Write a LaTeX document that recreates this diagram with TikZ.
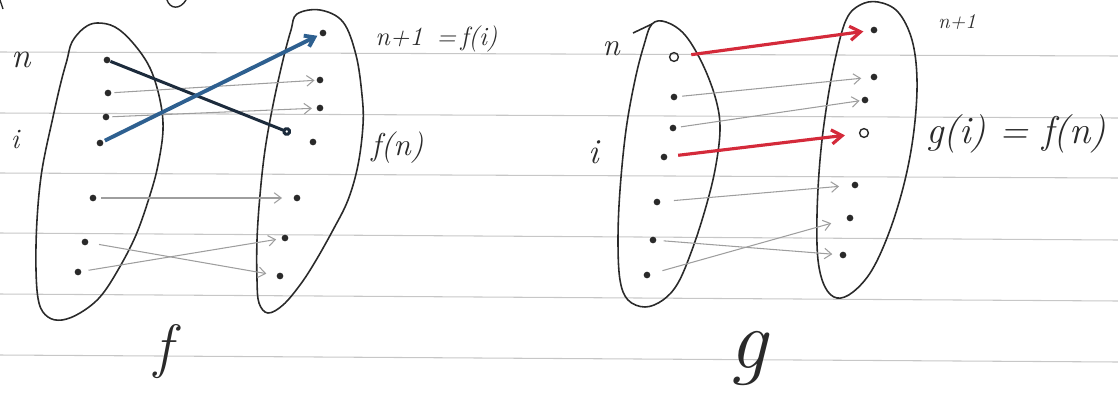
\documentclass[tikz,border=0pt]{standalone}
\usepackage{fontspec}
\usetikzlibrary{arrows.meta}
\definecolor{navy}{HTML}{1C2B3C}
\definecolor{penblue}{HTML}{2E6090}
\definecolor{penred}{HTML}{D42A3A}
\definecolor{pencil}{HTML}{2A2A2A}
\begin{document}
\begin{tikzpicture}[x=0.02cm,y=-0.02cm,
  dotn/.style={circle,fill=pencil,inner sep=0pt,minimum size=3.8pt},
  odotn/.style={circle,draw=pencil,line width=0.8pt,inner sep=0pt,minimum size=5pt},
  blob/.style={draw=pencil,line width=0.9pt},
  ruling/.style={draw=black!22,line width=0.6pt},
  faint/.style={draw=black!38,line width=0.6pt,-{Straight Barb[length=4pt,width=6pt]}},
  bluearr/.style={draw=penblue,line width=2.2pt,-{Straight Barb[length=5pt,width=7pt]}},
  navyarr/.style={draw=navy,line width=1.7pt,-{Circle[open,length=5pt,width=5pt]}},
  redarr/.style={draw=penred,line width=1.8pt,-{Straight Barb[length=6pt,width=8pt]}},
  lbl/.style={inner sep=0pt,text=pencil},
]
\useasboundingbox (0,0) rectangle (1118,396);

% ruled paper lines
\draw[ruling] (0,52) -- (1118,56);
\draw[ruling] (0,113) -- (1118,118);
\draw[ruling] (0,173) -- (1118,178);
\draw[ruling] (0,233) -- (1118,240);
\draw[ruling] (0,294) -- (1118,301);
\draw[ruling] (0,355) -- (1118,362);

% stray strokes at the top edge
\draw[pencil,line width=0.8pt] (0,0) -- (3,9);
\draw[pencil,line width=0.8pt] (167,0) .. controls (170,9) and (180,10) .. (186,0);

% ===== f =====
\draw[blob] plot[smooth cycle,tension=0.6] coordinates {
  (67,60) (72,42) (84,28) (97,23) (115,27) (133,43) (150,68) (160,100) (163,130)
  (158,165) (150,195) (136,235) (118,270) (100,297) (80,313) (62,320) (48,317)
  (39,303) (36,270) (37,220) (42,170) (53,117) (61,82)};
\draw[blob] plot[smooth cycle,tension=0.6] coordinates {
  (297,14) (320,10) (343,22) (356,55) (362,95) (363,125) (358,165) (348,200)
  (333,230) (315,262) (300,285) (283,305) (268,313) (259,303) (257,280) (257,240)
  (260,195) (265,150) (273,105) (283,60) (291,30)};

\node[dotn] (fa1) at (107,60) {};
\node[dotn] (fa2) at (108,93) {};
\node[dotn] (fa3) at (106,117) {};
\node[dotn] (fa4) at (100,143) {};
\node[dotn] (fa5) at (93,198) {};
\node[dotn] (fa6) at (85,242) {};
\node[dotn] (fa7) at (78,272) {};

\node[dotn] (fb1) at (323,33) {};
\node[dotn] (fb2) at (320,80) {};
\node[dotn] (fb3) at (320,108) {};
\node[dotn] (fb4) at (313,142) {};
\node[dotn] (fb5) at (297,198) {};
\node[dotn] (fb6) at (285,238) {};
\node[dotn] (fb7) at (280,276) {};

\draw[faint,shorten <=1.5pt,shorten >=1pt] (fa2) -- (fb2);
\draw[faint,shorten <=1.5pt,shorten >=2.5pt] (fa3) -- (fb3);
\draw[faint,shorten <=2.5pt,shorten >=6.4pt] (fa5) -- (fb5);
\draw[faint,shorten <=6pt,shorten >=5.8pt] (fa6) -- (fb7);
\draw[faint,shorten <=4pt,shorten >=3pt] (fa7) -- (fb6);
\draw[navyarr,shorten >=11.5pt] (fa1) -- (fb4);
\draw[bluearr,shorten <=1pt,shorten >=1.5pt] (fa4) -- (fb1);

\node[lbl,font=\fontsize{20}{24}\selectfont\itshape] (fn) at (21,60) {n};
\node[lbl,font=\fontsize{16}{20}\selectfont\itshape] (fi) at (15,139) {i};
\node[lbl,anchor=base west,font=\fontsize{15}{18}\selectfont\itshape] (fl1) at (375,45) {n+1 \,=\,f(i)};
\node[lbl,anchor=base west,font=\fontsize{18}{22}\selectfont\itshape] (fl2) at (371,155) {f(n)};
\node[lbl,font=\fontsize{34}{40}\selectfont\itshape] (ftitle) at (163,352) {f};

% ===== g =====
\draw[blob] (633,33) -- (652,24);
\draw[blob] plot[smooth cycle,tension=0.6] coordinates {
  (652,24) (666,22) (685,35) (703,65) (716,100) (720,130) (715,170) (705,210)
  (692,250) (678,283) (663,300) (645,307) (628,300) (620,280) (618,240) (620,190)
  (626,130) (635,80) (644,45)};
\draw[blob] plot[smooth cycle,tension=0.6] coordinates {
  (846,20) (860,5) (878,2) (898,12) (912,40) (917,80) (914,130) (905,180)
  (890,230) (872,270) (853,292) (837,298) (825,287) (818,260) (817,215) (820,160)
  (826,110) (835,60)};

\node[odotn] (ga1) at (674,57) {};
\node[dotn] (ga2) at (674,97) {};
\node[dotn] (ga3) at (673,128) {};
\node[dotn] (ga4) at (664,157) {};
\node[dotn] (ga5) at (657,202) {};
\node[dotn] (ga6) at (653,240) {};
\node[dotn] (ga7) at (647,275) {};

\node[dotn] (gb1) at (874,30) {};
\node[dotn] (gb2) at (874,77) {};
\node[dotn] (gb3) at (865,100) {};
\node[odotn] (gb4) at (864,133) {};
\node[dotn] (gb5) at (855,185) {};
\node[dotn] (gb6) at (850,218) {};
\node[dotn] (gb7) at (843,255) {};

\draw[faint,shorten <=2.5pt,shorten >=5.2pt] (ga2) -- (gb2);
\draw[faint,shorten <=2.5pt,shorten >=1pt] (ga3) -- (gb3);
\draw[faint,shorten <=7.5pt,shorten >=7pt] (ga5) -- (gb5);
\draw[faint,shorten <=4pt,shorten >=4pt] (ga6) -- (gb7);
\draw[faint,shorten <=7pt,shorten >=9pt] (ga7) -- (gb6);
\draw[redarr,shorten <=7pt,shorten >=4pt] (ga1) -- (gb1);
\draw[redarr,shorten <=6pt,shorten >=8pt] (ga4) -- (gb4);

\node[lbl,font=\fontsize{18}{22}\selectfont\itshape] (gn) at (611,49) {n};
\node[lbl,font=\fontsize{20}{24}\selectfont\itshape] (gi) at (594,152) {i};
\node[lbl,font=\fontsize{12}{14}\selectfont\itshape] (gl1) at (957,22) {n+1};
\node[lbl,anchor=base west,font=\fontsize{22}{26}\selectfont\itshape] (gl2) at (926,143) {g(i) = f(n)};
\node[lbl,font=\fontsize{48}{56}\selectfont\itshape] (gtitle) at (748,358) {g};
\end{tikzpicture}
\end{document}
